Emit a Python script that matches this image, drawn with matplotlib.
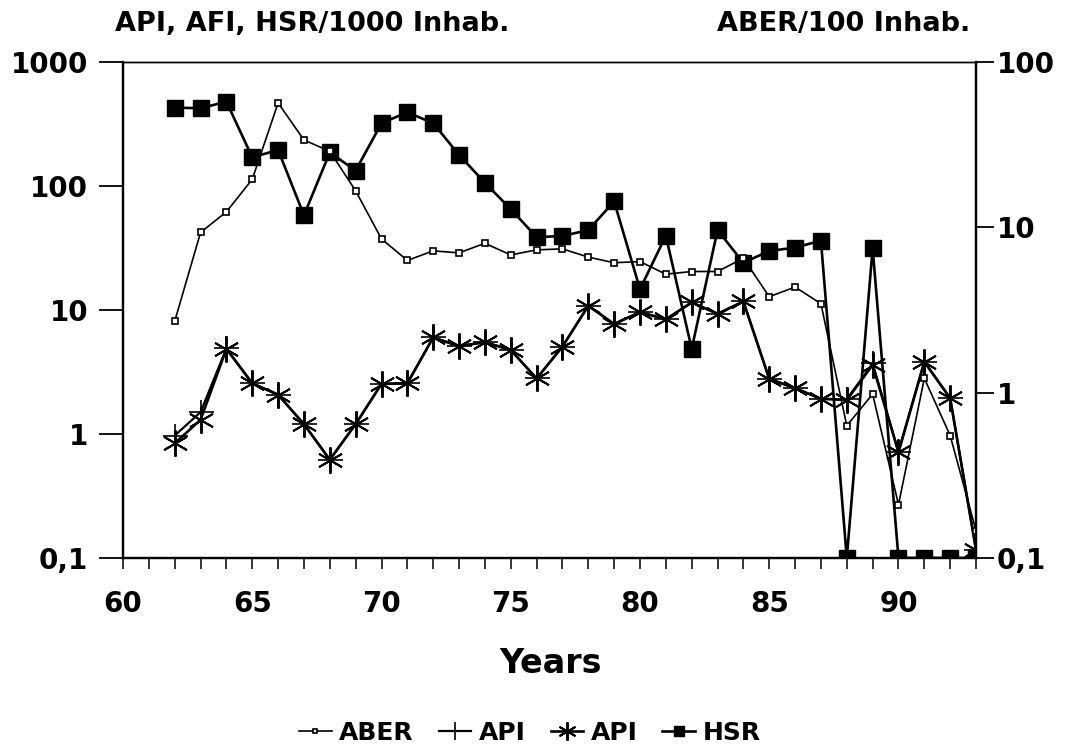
import matplotlib
matplotlib.use("Agg")
import matplotlib.pyplot as plt
from matplotlib.ticker import FixedLocator, NullLocator, FixedFormatter

plt.rcParams['font.family'] = ['DejaVu Sans']
plt.rcParams['font.weight'] = 'bold'

years = list(range(62, 94))

# ABER /100 inhab. (right axis)
aber = [2.7, 9.3, 12.4, 19.5, 56.5, 33.7, 28.8, 16.6, 8.5, 6.3, 7.2, 7.0, 8.0, 6.8,
        7.3, 7.4, 6.6, 6.1, 6.2, 5.2, 5.4, 5.4, 6.5, 3.8, 4.35, 3.45,
        0.63, 0.98, 0.21, 1.22, 0.55, 0.146]

# API (+) /1000 inhab. (left axis)
api_plus = [0.97, 1.5, 4.9, 2.56, 2.07, 1.2, 0.62, 1.2, 2.53, 2.56, 6.0, 5.1, 5.5, 4.75,
            2.8, 5.06, 10.8, 7.7, 9.6, 8.4, 11.5, 9.3, 11.7, 2.78, 2.34, 1.92,
            1.9, 3.7, 0.72, 3.8, 1.94, 0.116]

# API (*) /1000 inhab. (left axis)
api_star = [0.84, 1.3, 4.85, 2.56, 2.07, 1.2, 0.62, 1.2, 2.53, 2.56, 6.0, 5.1, 5.5, 4.75,
            2.8, 5.06, 10.8, 7.7, 9.6, 8.4, 11.5, 9.3, 11.7, 2.78, 2.34, 1.92,
            1.88, 3.6, 0.71, 3.83, 1.94, 0.116]

# HSR /1000 inhab. (left axis)
hsr = [428, 423, 478, 170, 195, 58, 186, 133, 320, 393, 320, 178, 106, 65,
       38.6, 39.5, 44, 75, 14.7, 39.7, 4.85, 44, 24, 29.9, 31.8, 36.2,
       0.1, 31.4, 0.1, 0.1, 0.1, 0.1]

left_ticks = [0.1, 1, 10, 100, 1000]
left_labels = ['0,1', '1', '10', '100', '1000']
right_ticks = [0.1, 1, 10, 100]
right_labels = ['0,1', '1', '10', '100']
x_ticks = [60, 65, 70, 75, 80, 85, 90]

fig = plt.figure(figsize=(10.66, 7.55), dpi=100)
ax = fig.add_axes([0.1154, 0.261, 0.8002, 0.657])
ax2 = ax.twinx()

# asterisk marker: 6 arms
ast = (6, 2, 0)

l_plus, = ax.plot(years, api_plus, color='black', lw=1.6, marker='+',
                  markersize=18, mew=1.2, label='API')
l_star, = ax.plot(years, api_star, color='black', lw=1.9, marker=ast,
                  markersize=19, mew=1.4, label='API')
l_hsr, = ax.plot(years, hsr, color='black', lw=1.9, marker='s',
                 markersize=11, label='HSR')
l_aber, = ax2.plot(years, aber, color='black', lw=1.2, marker='s',
                   markersize=5, mfc='white', mew=1.2, label='ABER')

ax.set_yscale('log')
ax2.set_yscale('log')
ax.set_ylim(0.1, 1000)
ax2.set_ylim(0.1, 100)
ax.set_xlim(60, 93)

ax.yaxis.set_major_locator(FixedLocator(left_ticks))
ax.yaxis.set_major_formatter(FixedFormatter(left_labels))
ax.yaxis.set_minor_locator(NullLocator())
ax2.yaxis.set_major_locator(FixedLocator(right_ticks))
ax2.yaxis.set_major_formatter(FixedFormatter(right_labels))
ax2.yaxis.set_minor_locator(NullLocator())

ax.xaxis.set_major_locator(FixedLocator(x_ticks))
ax.xaxis.set_minor_locator(FixedLocator(range(60, 94)))

ax.tick_params(axis='y', which='major', direction='out', length=17, width=1.3,
               labelsize=20, pad=8)
ax2.tick_params(axis='y', which='major', direction='out', length=13, width=1.3,
                labelsize=20, pad=2)
ax.tick_params(axis='x', which='both', direction='out', length=8, width=1.1)
ax.tick_params(axis='x', which='major', labelsize=20, pad=15)

for a in (ax, ax2):
    for s in a.spines.values():
        s.set_linewidth(1.6)
        s.set_color('black')
    a.spines['top'].set_linewidth(1.0)
ax2.patch.set_visible(False)

for lbl in ax.get_xticklabels() + ax.get_yticklabels() + ax2.get_yticklabels():
    lbl.set_fontweight('bold')

fig.text(0.108, 0.968, 'API, AFI, HSR/1000 Inhab.', fontsize=19.5,
         fontweight='bold', ha='left', va='center')
fig.text(0.91, 0.968, 'ABER/100 Inhab.', fontsize=19.5,
         fontweight='bold', ha='right', va='center')

fig.text(0.516, 0.121, 'Years', fontsize=24, fontweight='bold',
         ha='center', va='center')

fig.legend(handles=[l_aber, l_plus, l_star, l_hsr],
           labels=['ABER', 'API', 'API', 'HSR'],
           loc='center', bbox_to_anchor=(0.497, 0.029), ncol=4, frameon=False,
           prop={'weight': 'bold', 'size': 18}, handlelength=1.3,
           handletextpad=0.3, columnspacing=1.0, markerscale=0.7)

fig.savefig('out.png', dpi=100)
